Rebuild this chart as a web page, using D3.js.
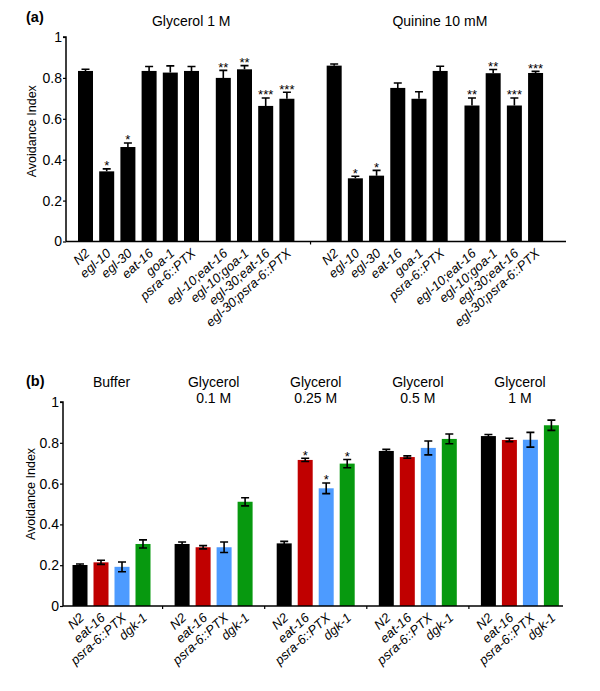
<!DOCTYPE html>
<html>
<head>
<meta charset="utf-8">
<script src="https://cdn.jsdelivr.net/npm/d3@7"></script>
<style>
  body { margin: 0; background: #fff; }
  text { font-family: "Liberation Sans", Arial, sans-serif; }
</style>
</head>
<body>
<svg id="chart" width="600" height="691"></svg>
<script>
// ---------- Panel (a) data ----------
const conditionsA = ["Glycerol 1 M", "Quinine 10 mM"];
const genotypesA = ["N2", "egl-10", "egl-30", "eat-16", "goa-1", "psra-6::PTX",
                    "egl-10;eat-16", "egl-10;goa-1", "egl-30;eat-16", "egl-30;psra-6::PTX"];
const glycerolValues = [0.834, 0.343, 0.462, 0.834, 0.826, 0.834, 0.800, 0.842, 0.663, 0.698];
const glycerolErrors = [0.008, 0.012, 0.020, 0.022, 0.033, 0.022, 0.037, 0.018, 0.039, 0.032];
const quinineValues  = [0.860, 0.309, 0.322, 0.751, 0.698, 0.834, 0.665, 0.823, 0.665, 0.824];
const quinineErrors  = [0.008, 0.010, 0.026, 0.024, 0.034, 0.023, 0.037, 0.018, 0.037, 0.008];
const starsA = ["", "*", "*", "", "", "", "**", "**", "***", "***"];

// ---------- Panel (b) data ----------
const conditionsB = ["Buffer", "Glycerol 0.1 M", "Glycerol 0.25 M", "Glycerol 0.5 M", "Glycerol 1 M"];
const conditionTitlesB = [["Buffer"], ["Glycerol", "0.1 M"], ["Glycerol", "0.25 M"], ["Glycerol", "0.5 M"], ["Glycerol", "1 M"]];
const genotypesB = ["N2", "eat-16", "psra-6::PTX", "dgk-1"];
const n2Values    = [0.201, 0.304, 0.307, 0.760, 0.833];
const eat16Values = [0.214, 0.288, 0.716, 0.730, 0.814];
const psraValues  = [0.192, 0.288, 0.577, 0.775, 0.815];
const dgk1Values  = [0.304, 0.511, 0.698, 0.819, 0.886];
const n2Errors    = [0.005, 0.010, 0.010, 0.008, 0.008];
const eat16Errors = [0.010, 0.008, 0.008, 0.006, 0.008];
const psraErrors  = [0.024, 0.026, 0.026, 0.034, 0.036];
const dgk1Errors  = [0.020, 0.020, 0.020, 0.024, 0.025];
const starsB = [["", "", "", ""], ["", "", "", ""], ["", "*", "*", "*"], ["", "", "", ""], ["", "", "", ""]];
const yTicks = [0, 0.2, 0.4, 0.6, 0.8, 1];

const colorsB = ["#000000", "#c00000", "#4d9bff", "#07990f"];

const svg = d3.select("#chart");
const fmt = d => d === 0 ? "0" : d === 1 ? "1" : d3.format(".1f")(d);
const LABEL_ANGLE = -42;

function yAxis(g, y, x0) {
  const ax = d3.axisLeft(y).tickValues(yTicks).tickFormat(fmt).tickSize(3).tickPadding(1);
  const gg = g.append("g").attr("transform", `translate(${x0},0)`).call(ax);
  gg.select(".domain").attr("stroke-width", 1.5).attr("d", `M-3,${y(1)}H0V${y(0)}`);
  gg.selectAll(".tick line").attr("stroke-width", 1.2);
  gg.selectAll(".tick text").attr("font-size", 14).attr("fill", "#000")
    .attr("font-family", "Liberation Sans, Arial, sans-serif");
  return gg;
}

// ================= Panel (a) =================
const yA = d3.scaleLinear().domain([0, 1]).range([241.5, 37]);
const barW = 15;
// slot layout: 10 bars per condition, gap before the double mutants
const slotOf = (c, i) => c * 11.73 + i + (i >= 6 ? 0.5 : 0);
const xA = d3.scaleLinear().domain([0, 1]).range([78, 99.2]);

const gA = svg.append("g");
const dataA = [];
conditionsA.forEach((cond, c) => {
  const vals = c === 0 ? glycerolValues : quinineValues;
  const errs = c === 0 ? glycerolErrors : quinineErrors;
  genotypesA.forEach((gt, i) => dataA.push({ c, i, gt, v: vals[i], e: errs[i], s: starsA[i] }));
});

gA.selectAll("rect.bar").data(dataA).join("rect")
  .attr("x", d => xA(slotOf(d.c, d.i)))
  .attr("width", barW)
  .attr("y", d => yA(d.v))
  .attr("height", d => yA(0) - yA(d.v))
  .attr("fill", "#000");

// upper error bars (T)
gA.selectAll("path.err").data(dataA).join("path")
  .attr("d", d => {
    const cx = xA(slotOf(d.c, d.i)) + barW / 2;
    const top = yA(d.v + d.e);
    return `M${cx},${yA(d.v)}V${top}M${cx - 4},${top}H${cx + 4}`;
  })
  .attr("stroke", "#000").attr("stroke-width", 1.6).attr("fill", "none");

gA.selectAll("text.star").data(dataA.filter(d => d.s)).join("text")
  .attr("x", d => xA(slotOf(d.c, d.i)) + barW / 2)
  .attr("y", d => yA(d.v + d.e) + 1.5)
  .attr("text-anchor", "middle").attr("font-size", 13)
  .text(d => d.s);

// x axis line
const axLeftA = 66, axRightA = 566;
gA.append("path").attr("d", `M${axLeftA},${yA(0)}H${axRightA}`)
  .attr("stroke", "#000").attr("stroke-width", 1.6);
const midA = (xA(slotOf(0, 9)) + barW + xA(slotOf(1, 0))) / 2;
gA.append("path").attr("d", `M${midA},${yA(0)}v3`).attr("stroke", "#000").attr("stroke-width", 1.2);

yAxis(gA, yA, axLeftA);

const lxA = d => xA(slotOf(d.c, d.i)) + barW / 2 + 5;
gA.selectAll("text.xl").data(dataA).join("text")
  .attr("x", lxA).attr("y", yA(0) + 13)
  .attr("transform", d => `rotate(${LABEL_ANGLE},${lxA(d)},${yA(0) + 13})`)
  .attr("text-anchor", "end").attr("font-size", 13).attr("font-style", "italic")
  .text(d => d.gt);

const midYA = (yA(0) + yA(1)) / 2 - 8;
gA.append("text").attr("x", 33).attr("y", midYA)
  .attr("transform", `rotate(-90,33,${midYA})`)
  .attr("text-anchor", "middle").attr("dominant-baseline", "middle")
  .attr("font-size", 12.5).text("Avoidance Index");

gA.append("text").attr("x", 26).attr("y", 22).attr("font-size", 14.5).attr("font-weight", "bold").text("(a)");
conditionsA.forEach((cond, c) => {
  const x0 = xA(slotOf(c, 0)), x1 = xA(slotOf(c, 9)) + barW;
  gA.append("text").attr("x", (x0 + x1) / 2 + 5).attr("y", 26)
    .attr("text-anchor", "middle").attr("font-size", 14).text(cond);
});

// ================= Panel (b) =================
const yB = d3.scaleLinear().domain([0, 1]).range([606, 402]);
const xB = d3.scaleBand().domain(conditionsB).range([60.5, 571]);
const xBi = d3.scaleBand().domain(genotypesB).range([12, 90]).paddingInner(6 / 21).paddingOuter(0);

const seriesVals = [n2Values, eat16Values, psraValues, dgk1Values];
const seriesErrs = [n2Errors, eat16Errors, psraErrors, dgk1Errors];
const dataB = [];
conditionsB.forEach((cond, c) => {
  genotypesB.forEach((gt, g) => dataB.push({
    cond, c, gt, g, v: seriesVals[g][c], e: seriesErrs[g][c], s: starsB[c][g]
  }));
});

const gB = svg.append("g");
const bx = d => xB(d.cond) + xBi(d.gt);

gB.selectAll("rect.bar").data(dataB).join("rect")
  .attr("x", bx).attr("width", xBi.bandwidth())
  .attr("y", d => yB(d.v)).attr("height", d => yB(0) - yB(d.v))
  .attr("fill", d => colorsB[d.g]);

gB.selectAll("path.err").data(dataB).join("path")
  .attr("d", d => {
    const cx = bx(d) + xBi.bandwidth() / 2;
    const t = yB(d.v + d.e), b = yB(d.v - d.e);
    return `M${cx},${t}V${b}M${cx - 4},${t}H${cx + 4}M${cx - 4},${b}H${cx + 4}`;
  })
  .attr("stroke", "#000").attr("stroke-width", 1.6).attr("fill", "none");

gB.selectAll("text.star").data(dataB.filter(d => d.s)).join("text")
  .attr("x", d => bx(d) + xBi.bandwidth() / 2)
  .attr("y", d => yB(d.v + d.e) + 1.5)
  .attr("text-anchor", "middle").attr("font-size", 13).text(d => d.s);

const axLeftB = 63, axRightB = 563;
gB.append("path").attr("d", `M${axLeftB},${yB(0)}H${axRightB}`)
  .attr("stroke", "#000").attr("stroke-width", 1.6);
gB.selectAll("path.sep").data(conditionsB.slice(1)).join("path")
  .attr("d", d => `M${xB(d)},${yB(0)}v3`).attr("stroke", "#000").attr("stroke-width", 1.2);

yAxis(gB, yB, axLeftB);

const lxB = d => bx(d) + xBi.bandwidth() / 2 + 5;
gB.selectAll("text.xl").data(dataB).join("text")
  .attr("x", lxB).attr("y", yB(0) + 13)
  .attr("transform", d => `rotate(${LABEL_ANGLE},${lxB(d)},${yB(0) + 13})`)
  .attr("text-anchor", "end").attr("font-size", 13).attr("font-style", "italic")
  .text(d => d.gt);

const midYB = (yB(0) + yB(1)) / 2 - 10;
gB.append("text").attr("x", 32).attr("y", midYB)
  .attr("transform", `rotate(-90,32,${midYB})`)
  .attr("text-anchor", "middle").attr("dominant-baseline", "middle")
  .attr("font-size", 12.5).text("Avoidance Index");

gB.append("text").attr("x", 26).attr("y", 386).attr("font-size", 14.5).attr("font-weight", "bold").text("(b)");
conditionsB.forEach((cond, c) => {
  const cx = xB(cond) + xB.bandwidth() / 2;
  conditionTitlesB[c].forEach((line, k) => {
    gB.append("text").attr("x", cx).attr("y", 387 + k * 16)
      .attr("text-anchor", "middle").attr("font-size", 14).text(line);
  });
});
</script>
</body>
</html>
